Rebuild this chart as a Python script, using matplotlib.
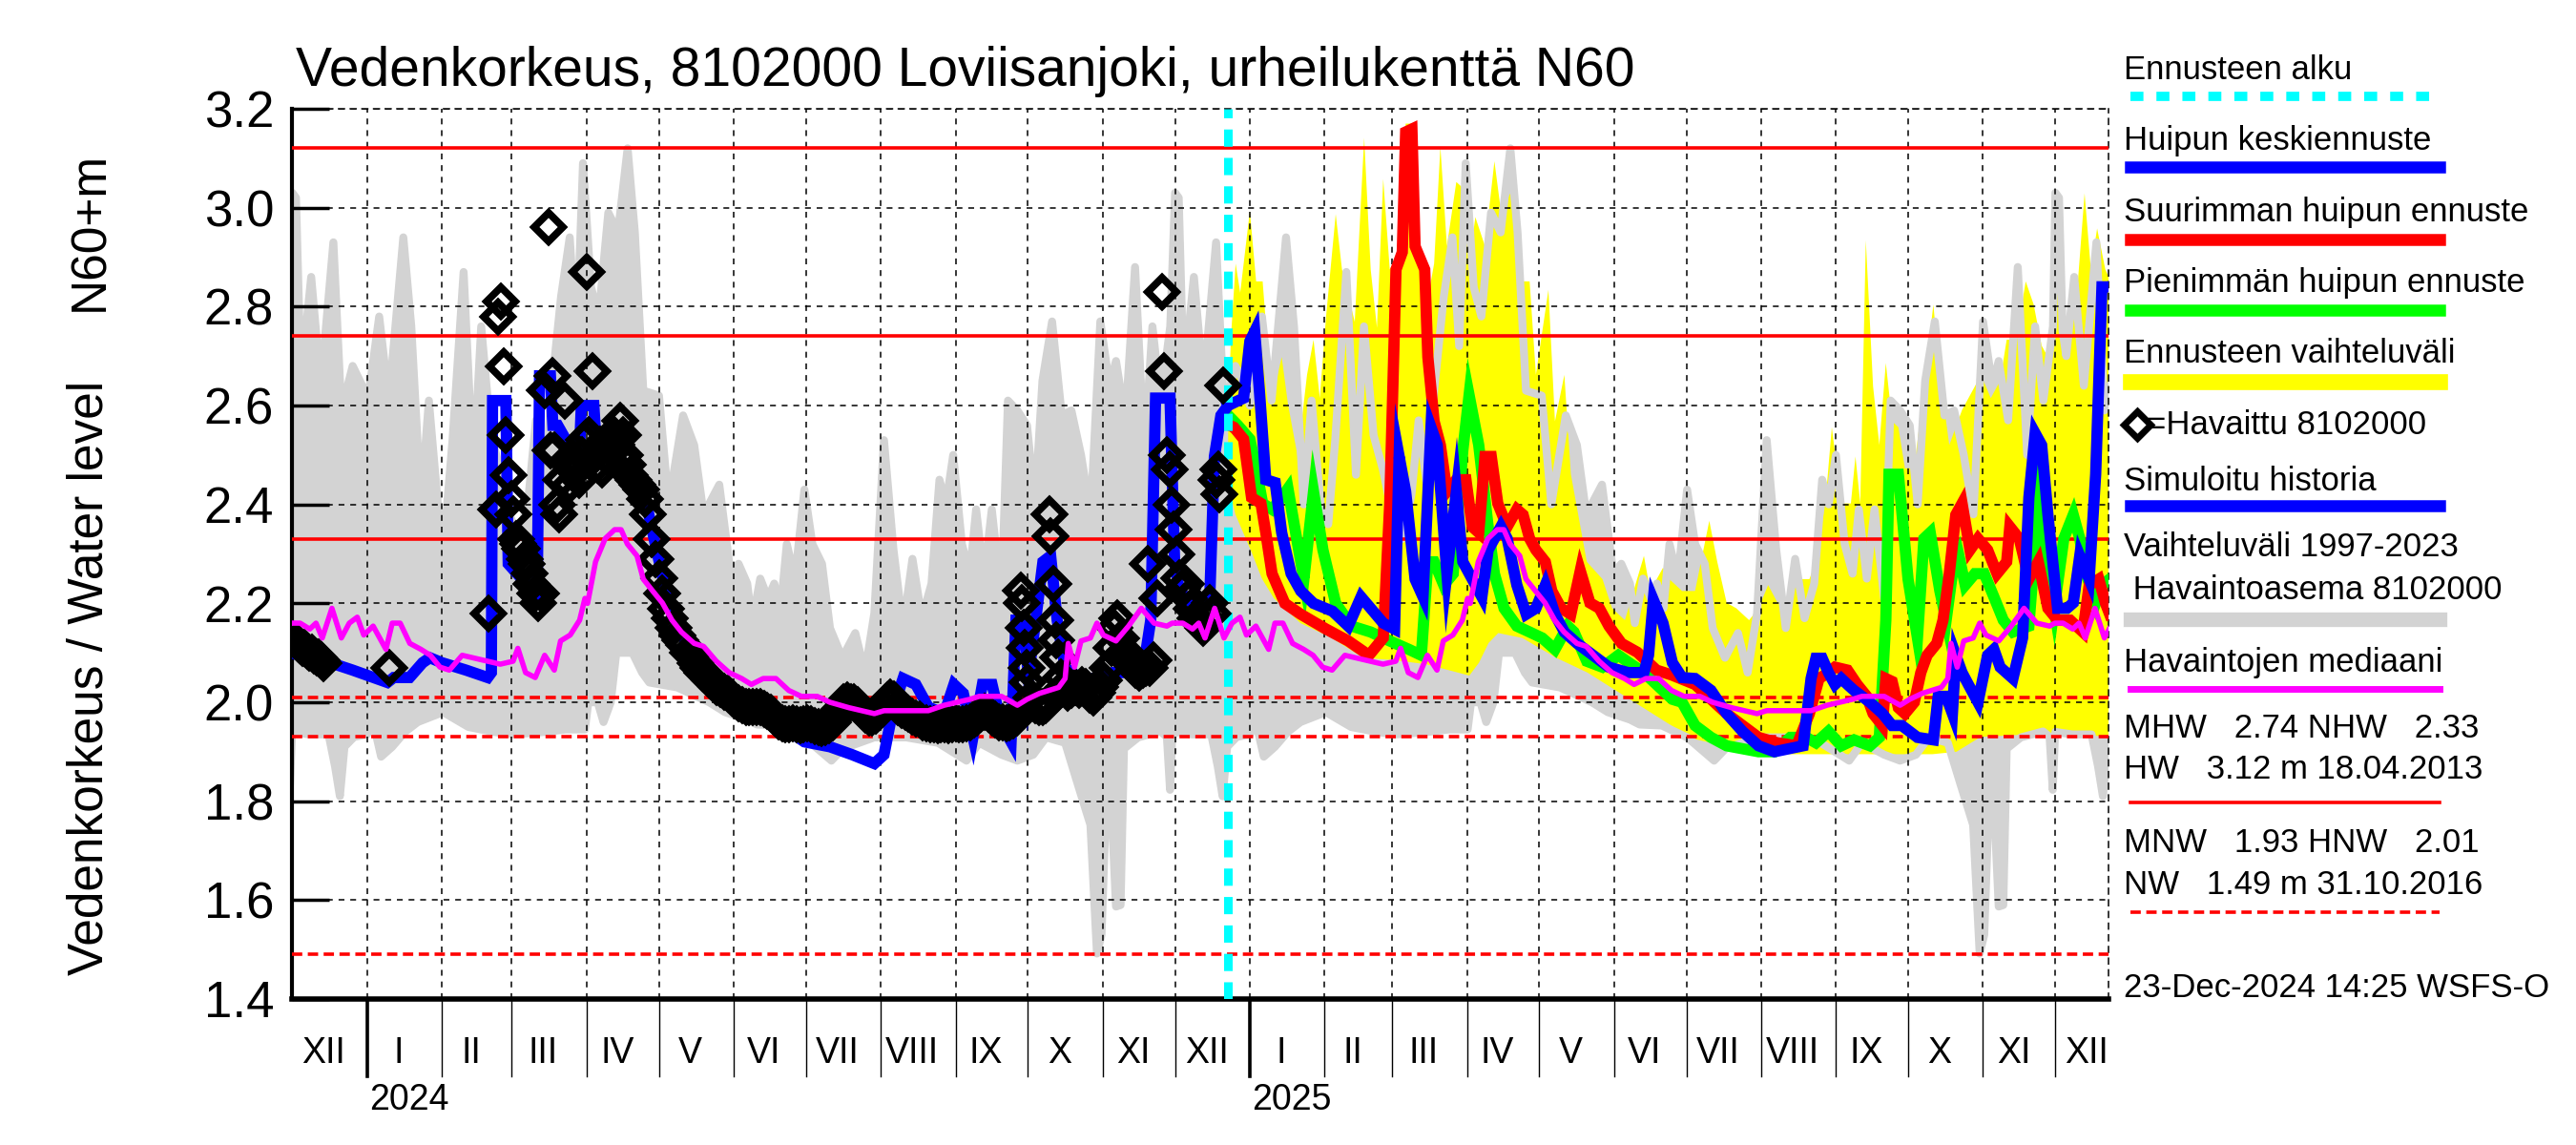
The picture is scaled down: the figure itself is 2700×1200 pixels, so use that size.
import numpy as np
import matplotlib
matplotlib.use("Agg")
import matplotlib.pyplot as plt
import matplotlib.dates as mdates
from matplotlib.lines import Line2D
from datetime import date

plt.rcParams['font.family'] = ['Liberation Sans', 'DejaVu Sans']

# ---------------- data ----------------
# time axis: days counted from 1 Dec 2023
START = date(2023, 12, 1)
N_DAYS = 753            # axis ends 23 Dec 2025
FORECAST_DAY = 388      # 23 Dec 2024

y_ticks = [1.4, 1.6, 1.8, 2.0, 2.2, 2.4, 2.6, 2.8, 3.0, 3.2]
months = ['I', 'II', 'III', 'IV', 'V', 'VI', 'VII', 'VIII', 'IX', 'X', 'XI', 'XII']
hw_lines = [3.12, 2.74, 2.33]      # HW, MHW, NHW
lw_lines = [2.01, 1.93, 1.49]      # HNW, MNW, NW

# climatology 1997-2023, key = days after 1 December
hist_max = [(0, 3.03), (1.5, 3.02), (3, 2.75), (4.5, 2.70), (7.8, 2.86), (11.8, 2.64), (17, 2.93),
            (20.3, 2.59), (25, 2.68), (29, 2.64), (31, 2.60), (36, 2.78), (40, 2.61), (46, 2.94),
            (49.3, 2.76), (53.3, 2.40), (56.6, 2.61), (60.5, 2.39), (63.5, 2.36), (66.4, 2.53),
            (71, 2.87), (75, 2.46), (78.3, 2.76), (82.3, 2.54), (86.2, 2.47), (90, 2.38), (94, 2.33),
            (98, 2.42), (101, 2.57), (104.6, 2.43), (107.4, 2.63), (111.4, 2.82), (115, 2.94),
            (117.8, 2.72), (120.5, 3.09), (123.8, 2.84), (127, 2.78), (131, 2.99), (135, 2.95),
            (139, 3.12), (142, 2.95), (145.5, 2.63), (152, 2.62), (156, 2.40), (162, 2.58),
            (166.6, 2.52), (170.5, 2.38), (177, 2.44), (181.7, 2.26), (185, 2.28), (188.6, 2.24),
            (190.6, 2.16), (194, 2.25), (197.2, 2.21), (199.8, 2.24), (202.5, 2.19), (205, 2.32),
            (208.4, 2.25), (212.3, 2.43), (215.6, 2.32), (219.6, 2.28), (222.9, 2.15), (228, 2.09),
            (233.4, 2.14), (237.4, 2.06), (241.3, 2.18), (245.3, 2.53), (249.2, 2.31), (253.2, 2.15),
            (257.1, 2.29), (261, 2.17), (265, 2.24), (268.3, 2.45), (271, 2.40), (274, 2.50),
            (277.6, 2.32), (280.9, 2.26), (283.5, 2.39), (286.8, 2.25), (290, 2.39), (294, 2.21),
            (296.7, 2.61), (300.6, 2.59), (304.6, 2.56), (307.9, 2.40), (311, 2.65), (315, 2.77),
            (319, 2.58), (323, 2.59), (327, 2.50), (331, 2.38), (335, 2.77), (338.8, 2.64),
            (341.5, 2.69), (345.4, 2.57), (349.4, 2.88), (353.3, 2.50), (356.6, 2.76), (360, 2.61),
            (364, 2.76)]
hist_min = [(0, 1.94), (7, 1.935), (15, 1.935), (17.7, 1.87), (19.7, 1.81), (21.6, 1.91), (25.6, 1.93),
            (31, 1.935), (33.5, 1.96), (36.8, 1.89), (41.4, 1.91), (46.7, 1.94), (52, 1.96),
            (62.5, 1.98), (73, 1.95), (83.6, 1.94), (91.5, 1.935), (104.6, 1.94), (113.4, 1.945),
            (121.3, 1.945), (122.7, 2.0), (126.6, 2.0), (129, 1.96), (132, 2.0), (134.3, 2.10),
            (141, 2.10), (145, 2.06), (148, 2.04), (159.6, 2.03), (172.8, 2.0), (179.4, 1.98),
            (188.6, 1.965), (192.6, 1.955), (201.8, 1.953), (212.3, 1.929), (223.5, 1.882),
            (228.2, 1.906), (241.3, 1.929), (254.5, 1.929), (267.7, 1.918), (279.5, 1.882),
            (284.8, 1.918), (294, 1.894), (300.6, 1.882), (307.2, 1.894), (312.5, 1.929),
            (320.4, 1.918), (325.6, 1.835), (330.9, 1.752), (333.6, 1.492), (335.5, 1.53),
            (337.5, 1.811), (339.5, 1.80), (341.5, 1.587), (343.4, 1.59), (344.8, 1.906),
            (350.7, 1.929), (359.9, 1.941), (362.6, 1.93), (363.9, 1.823), (364.8, 1.93)]
median = [(0, 2.16), (3.2, 2.16), (7.2, 2.148), (9.8, 2.16), (12.4, 2.13), (16.4, 2.19), (20.3, 2.13),
          (23.6, 2.16), (26.9, 2.172), (29.6, 2.136), (33.5, 2.154), (38.8, 2.107), (41.4, 2.16),
          (44.7, 2.16), (48.7, 2.119), (53.3, 2.107), (57.2, 2.095), (61.2, 2.071), (65.1, 2.065),
          (70.4, 2.095), (75.7, 2.089), (80.9, 2.083), (86.2, 2.077), (91.5, 2.083), (93.5, 2.109),
          (96.7, 2.06), (100.7, 2.05), (104.6, 2.095), (108.6, 2.065), (111.2, 2.124), (115.2, 2.136),
          (119.1, 2.166), (121.3, 2.21), (122.4, 2.20), (125.7, 2.284), (129.7, 2.331), (133.6, 2.349),
          (136.3, 2.349), (138.9, 2.32), (142.9, 2.296), (145.5, 2.249), (149.4, 2.225), (153.4, 2.201),
          (157.4, 2.166), (161.3, 2.142), (166.6, 2.119), (170.5, 2.113), (175.8, 2.083), (181.1, 2.06),
          (186.3, 2.048), (190.3, 2.036), (195.2, 2.048), (200.5, 2.048), (205.8, 2.024), (211, 2.012),
          (217.6, 2.012), (222.9, 2.0), (230.8, 1.989), (241.3, 1.977), (245.3, 1.983), (254.5, 1.983),
          (263.7, 1.983), (270.3, 1.994), (275.6, 2.0), (280.9, 2.006), (284.8, 2.012), (294, 2.012),
          (300.6, 1.994), (304.6, 2.006), (309.8, 2.018), (317.7, 2.03), (320.4, 2.048), (321.7, 2.119),
          (324.3, 2.071), (327, 2.124), (330.9, 2.13), (333.6, 2.16), (336.2, 2.136), (341.5, 2.124),
          (346.7, 2.154), (352, 2.19), (357.3, 2.16), (362.6, 2.154), (364.8, 2.16)]

# observed water level (days from 1 Dec 2023)
observed = [(0, 2.13), (1, 2.125), (2, 2.12), (3, 2.115), (4, 2.11), (5, 2.11), (6, 2.105), (7, 2.10),
            (8, 2.10), (9, 2.095), (10, 2.09), (11, 2.09), (12, 2.085), (13, 2.08), (40, 2.07),
            (81.5, 2.18), (84.3, 2.39), (85.4, 2.78), (86.6, 2.81), (87.6, 2.68), (88.3, 2.54),
            (89.6, 2.46), (90.8, 2.41), (91.7, 2.38), (92.6, 2.33), (93.5, 2.32), (94.4, 2.31),
            (95.2, 2.31), (96.2, 2.29), (97.2, 2.28), (98.2, 2.26), (99.2, 2.24), (100.5, 2.22),
            (101.8, 2.20), (103, 2.22), (104.8, 2.63), (106.1, 2.96), (107, 2.51), (107.8, 2.66),
            (108.7, 2.51), (109.6, 2.40), (110.7, 2.38), (111.5, 2.45), (112.8, 2.61), (114, 2.49),
            (115, 2.44), (116, 2.47), (117, 2.49), (118, 2.47), (119, 2.45), (120, 2.50), (121, 2.53),
            (122, 2.87), (123, 2.54), (124.5, 2.67), (125.5, 2.50), (126.5, 2.48), (127.5, 2.52),
            (128.5, 2.47), (129.5, 2.50), (130.5, 2.53), (131.5, 2.49), (132.5, 2.51), (133.5, 2.54),
            (134.5, 2.52), (135.8, 2.57), (137, 2.54), (138, 2.50), (139, 2.48), (140, 2.46),
            (141.5, 2.45), (143, 2.44), (144.5, 2.43), (146, 2.41), (147.5, 2.38), (149, 2.33),
            (150.5, 2.29), (152, 2.25), (153.5, 2.22), (155, 2.19), (156.5, 2.17), (158, 2.15),
            (159.5, 2.135), (161, 2.125), (162.5, 2.115), (164, 2.10), (165.5, 2.095), (167, 2.08),
            (168.5, 2.07), (170, 2.06), (171.5, 2.055), (173, 2.045), (174.5, 2.04), (176, 2.03),
            (177.5, 2.027), (179, 2.022), (180.5, 2.018), (182, 2.01), (183.5, 2.003), (185, 1.998),
            (186.5, 1.995), (188, 1.99), (189.5, 1.99), (191, 1.99), (192.5, 1.99), (194, 1.99),
            (195.5, 1.987), (197, 1.983), (198.5, 1.978), (200, 1.97), (201.5, 1.962), (203, 1.957),
            (204.5, 1.955), (206, 1.955), (207.5, 1.957), (209, 1.955), (210.5, 1.953), (212, 1.955),
            (213.5, 1.957), (215, 1.955), (216.5, 1.952), (218, 1.95), (219.5, 1.948), (221, 1.95),
            (222.5, 1.953), (224, 1.96), (225.5, 1.972), (227, 1.987), (228.5, 2.0), (230, 2.003),
            (231.5, 2.0), (233, 2.0), (234.5, 1.995), (236, 1.985), (237.5, 1.975), (239, 1.97),
            (240.5, 1.97), (242, 1.973), (243.5, 1.98), (245, 1.992), (246.5, 2.003), (248, 2.01),
            (249.5, 2.005), (251, 1.99), (252.5, 1.985), (254, 1.98), (255.5, 1.977), (257, 1.972),
            (258.5, 1.968), (260, 1.965), (261.5, 1.96), (263, 1.958), (264.5, 1.955), (266, 1.955),
            (267.5, 1.953), (269, 1.955), (270.5, 1.955), (272, 1.953), (273.5, 1.955), (275, 1.957),
            (276.5, 1.955), (278, 1.955), (279.5, 1.957), (281, 1.96), (282.5, 1.965), (284, 1.97),
            (285.5, 1.977), (287, 1.98), (288.5, 1.977), (290, 1.97), (291.5, 1.965), (293, 1.96),
            (294.5, 1.96), (296, 1.958), (297.5, 1.96), (299, 1.963), (300.5, 1.97), (301.9, 2.225),
            (302.6, 2.20), (303.2, 2.15), (303.8, 2.11), (304.4, 2.07), (305, 2.04), (306.5, 2.01),
            (308, 1.995), (309.5, 1.99), (311, 1.99), (312.5, 1.995), (313.5, 2.0), (314, 2.38),
            (314.5, 2.335), (315.5, 2.24), (316.2, 2.165), (316.8, 2.125), (317.5, 2.09), (318.5, 2.05),
            (320, 2.03), (321.5, 2.02), (323, 2.025), (324.5, 2.03), (326, 2.025), (327.5, 2.035),
            (329, 2.03), (330.5, 2.015), (332, 2.01), (333.5, 2.02), (335, 2.03), (336.5, 2.045),
            (338, 2.07), (339.5, 2.11), (341, 2.15), (342, 2.17), (343.5, 2.13), (345, 2.105),
            (346.5, 2.095), (348, 2.075), (349.5, 2.065), (351, 2.06), (352.5, 2.065), (354, 2.07),
            (354.6, 2.28), (355.5, 2.07), (357, 2.085), (358.6, 2.21), (360.6, 2.83), (361.2, 2.67),
            (362.5, 2.50), (363.9, 2.47), (364.5, 2.40), (365.2, 2.35), (366.5, 2.30), (367.8, 2.25),
            (369, 2.23), (370.4, 2.24), (371.7, 2.21), (373, 2.19), (374.5, 2.17), (376, 2.16),
            (377.5, 2.15), (379, 2.17), (380.5, 2.20), (381.5, 2.18), (383.3, 2.45), (384, 2.47),
            (384.5, 2.42), (385.8, 2.64)]

# simulated history
simulated = [(0, 2.10), (5, 2.09), (15.7, 2.08), (25, 2.065), (39.4, 2.04), (42, 2.05), (48.6, 2.05),
             (54, 2.08), (57, 2.09), (62, 2.08), (72, 2.065), (81, 2.05), (82.5, 2.06), (83, 2.61),
             (88.5, 2.61), (89.5, 2.28), (95, 2.25), (101.5, 2.22), (102.5, 2.66), (107, 2.66),
             (108, 2.56), (110, 2.56), (117, 2.50), (119, 2.50), (119.8, 2.60), (125, 2.60),
             (126, 2.52), (135, 2.50), (140, 2.46), (146, 2.42), (150, 2.33), (155, 2.22), (160, 2.15),
             (170, 2.06), (180, 2.02), (188.6, 1.99), (201.8, 1.955), (212.3, 1.92), (222.9, 1.91),
             (232.1, 1.894), (241.3, 1.876), (245.3, 1.894), (249.2, 1.99), (253.2, 2.048),
             (258.5, 2.036), (263.7, 1.99), (270.3, 1.977), (274.3, 2.036), (278.2, 2.018), (282.2, 1.93),
             (286.1, 2.036), (290.1, 2.036), (294, 1.955), (298, 1.92), (300, 2.166), (303.2, 2.166),
             (305.2, 2.05), (311.2, 2.284), (314.4, 2.296), (317.1, 2.166), (320.4, 2.07), (327, 2.048),
             (333.6, 2.048), (340.1, 2.06), (346.7, 2.06), (353.3, 2.083), (355.9, 2.166),
             (357.9, 2.615), (363.9, 2.615), (365.8, 2.284), (367.8, 2.225), (373, 2.20), (380.3, 2.20),
             (382.3, 2.497), (385, 2.58), (388, 2.60)]

# forecasts
fc_mean = [(388, 2.60), (394.4, 2.615), (397, 2.73), (399, 2.75), (401, 2.627), (403.6, 2.45),
           (407.5, 2.444), (410.2, 2.343), (414.1, 2.26), (418.1, 2.225), (423.4, 2.20), (431.3, 2.184),
           (437.8, 2.154), (443.1, 2.213), (447.1, 2.19), (452.3, 2.16), (457, 2.148), (458.9, 2.497),
           (461.6, 2.426), (465.5, 2.249), (468.8, 2.213), (472.1, 2.556), (474.7, 2.52), (478.7, 2.26),
           (482.6, 2.426), (485.3, 2.284), (489.2, 2.249), (493.2, 2.213), (495.8, 2.308), (501.1, 2.355),
           (503.7, 2.331), (507.7, 2.237), (511.6, 2.178), (515.6, 2.19), (519.5, 2.237), (523.5, 2.178),
           (527.4, 2.142), (532.7, 2.119), (539.3, 2.095), (545.9, 2.071), (553.8, 2.06), (560.4, 2.06),
           (562.3, 2.095), (564.3, 2.207), (568.3, 2.16), (572.2, 2.08), (576.2, 2.05), (581.6, 2.048),
           (588.2, 2.024), (594.7, 1.977), (601.3, 1.941), (607.9, 1.912), (614.5, 1.90), (626.4, 1.912),
           (629.7, 2.048), (631.7, 2.089), (634.3, 2.089), (636.9, 2.06), (639.6, 2.036), (642.2, 2.048),
           (644.8, 2.036), (647.5, 2.024), (654.1, 2.0), (659.3, 1.977), (663.3, 1.953), (667.3, 1.953),
           (673.8, 1.929), (680.4, 1.924), (682.4, 2.012), (685.7, 2.012), (688.3, 1.977), (689.7, 2.095),
           (692.3, 2.06), (694.9, 2.036), (698.9, 2.0), (702.9, 2.095), (705.5, 2.107), (708.1, 2.071),
           (713.4, 2.048), (717.4, 2.13), (720, 2.414), (722.6, 2.544), (725.3, 2.52), (727.9, 2.379),
           (731.9, 2.19), (735.8, 2.19), (738.4, 2.201), (741.1, 2.296), (745, 2.249), (747.7, 2.461),
           (750.3, 2.84), (753, 2.84)]
fc_max = [(388.5, 2.56), (390.4, 2.556), (394.4, 2.532), (397.7, 2.414), (401.6, 2.402), (403.6, 2.343),
          (406.2, 2.26), (411.5, 2.20), (418.1, 2.178), (428.6, 2.148), (437.8, 2.124), (446.4, 2.095),
          (452.3, 2.13), (455, 2.402), (457.6, 2.875), (460.2, 2.91), (461.6, 3.153), (464.2, 3.159),
          (465.5, 2.922), (469.5, 2.875), (470.8, 2.698), (473.4, 2.568), (476, 2.52), (478.7, 2.426),
          (482.6, 2.45), (486.6, 2.45), (489.2, 2.355), (491.9, 2.343), (494.5, 2.497), (497.1, 2.497),
          (499.8, 2.402), (503.7, 2.355), (507.7, 2.39), (510.3, 2.379), (513, 2.331), (515.6, 2.308),
          (519.5, 2.284), (522.2, 2.225), (526.1, 2.19), (530.1, 2.178), (534, 2.266), (538, 2.201),
          (541.9, 2.19), (545.9, 2.154), (551.1, 2.119), (557.7, 2.101), (565.6, 2.065), (572, 2.055),
          (581.6, 2.036), (594.7, 1.977), (607.9, 1.929), (615.8, 1.918), (623.7, 1.912), (629, 1.977),
          (633, 2.048), (636.9, 2.06), (639.6, 2.071), (644.8, 2.065), (648.8, 2.036), (652.8, 2.012),
          (655.4, 1.977), (659.3, 1.953), (660.7, 2.048), (663.3, 2.042), (665.9, 1.989), (668.6, 1.977),
          (672.5, 2.0), (675.2, 2.06), (677.8, 2.095), (681.8, 2.119), (684.4, 2.166), (687, 2.26),
          (689.7, 2.379), (692.3, 2.402), (695.6, 2.308), (698.9, 2.331), (702.9, 2.308), (706.8, 2.26),
          (710.8, 2.284), (712.1, 2.355), (716, 2.331), (720, 2.249), (723.9, 2.284), (727.9, 2.19),
          (731.9, 2.166), (737.1, 2.166), (742.4, 2.142), (745, 2.237), (749, 2.249), (751.7, 2.201),
          (753.5, 2.178)]
fc_min = [(388, 2.58), (392, 2.56), (397, 2.532), (399.6, 2.473), (402.3, 2.402), (406.2, 2.39),
          (410.2, 2.414), (412.8, 2.432), (416.8, 2.32), (419.4, 2.249), (423.4, 2.426), (427.3, 2.308),
          (432.6, 2.20), (439.2, 2.154), (447.1, 2.142), (455, 2.124), (462.9, 2.107), (468.1, 2.095),
          (470.8, 2.284), (473.4, 2.284), (477.4, 2.237), (481.3, 2.26), (485.3, 2.509), (487.9, 2.621),
          (491.9, 2.52), (495.8, 2.355), (498.4, 2.26), (502.4, 2.19), (507.7, 2.154), (513, 2.142),
          (518.2, 2.13), (523.5, 2.107), (528.8, 2.154), (531.4, 2.142), (536.7, 2.083), (543.2, 2.071),
          (549.8, 2.095), (555.1, 2.077), (560.4, 2.06), (565.6, 2.036), (572.2, 2.006), (576.2, 2.0),
          (581.6, 1.953), (588.2, 1.929), (594.7, 1.912), (607.9, 1.90), (614.5, 1.90), (621.1, 1.929),
          (627.7, 1.929), (631.7, 1.918), (636.9, 1.941), (642.2, 1.912), (647.5, 1.924), (654.1, 1.912),
          (658, 1.929), (660.7, 2.166), (662, 2.461), (665.9, 2.461), (669.9, 2.249), (673.8, 2.13),
          (676.5, 2.331), (679.1, 2.343), (683.1, 2.225), (685.7, 2.166), (688.3, 2.26), (691, 2.296),
          (693.6, 2.237), (697.6, 2.26), (701.5, 2.26), (705.5, 2.213), (709.4, 2.166), (713.4, 2.142),
          (720, 2.154), (723.9, 2.402), (726.6, 2.308), (730.5, 2.19), (734.5, 2.331), (738.4, 2.379),
          (741.1, 2.331), (743.7, 2.26), (747.7, 2.201), (750.3, 2.237), (753.5, 2.249)]
fc_upper = [(388, 2.57), (389.1, 2.733), (391.1, 2.887), (393, 2.828), (397, 2.993), (399.6, 2.851),
            (402.3, 2.851), (404.9, 2.686), (407.5, 2.639), (410.2, 2.698), (412.8, 2.603), (416.8, 2.497),
            (420.7, 2.662), (423.4, 2.733), (426, 2.615), (428.6, 2.78), (432.6, 2.987), (435.2, 2.875),
            (440.5, 2.769), (444.4, 3.141), (447.1, 2.875), (449.7, 2.757), (452.3, 3.058), (455, 2.875),
            (457.6, 2.90), (460.2, 2.95), (461.6, 3.17), (464.2, 3.17), (465.5, 2.94), (470.8, 2.816),
            (473.4, 2.887), (476, 3.123), (478.7, 2.922), (482.6, 3.052), (485.3, 3.04), (487.9, 2.887),
            (490.5, 2.981), (494.5, 2.922), (498.4, 3.094), (501.1, 2.993), (505, 3.029), (509, 2.851),
            (513, 2.851), (515.6, 2.662), (520.8, 2.834), (523.5, 2.568), (527.4, 2.662), (530.1, 2.461),
            (536.7, 2.284), (543.2, 2.249), (547.2, 2.19), (552.5, 2.166), (560.4, 2.296), (563, 2.225),
            (568.3, 2.272), (570.9, 2.249), (576.2, 2.225), (581.6, 2.225), (587.5, 2.367), (590.8, 2.284),
            (594.7, 2.201), (598.7, 2.19), (604, 2.166), (607.9, 2.19), (611.9, 2.237), (615.8, 2.201),
            (621.1, 2.213), (625.1, 2.249), (629, 2.249), (631.7, 2.284), (635.6, 2.402), (638.3, 2.556),
            (642.2, 2.402), (646.2, 2.402), (648.1, 2.497), (650.1, 2.402), (652.4, 2.934), (655.4, 2.639),
            (658, 2.52), (660.7, 2.686), (663.3, 2.568), (665.9, 2.556), (668.6, 2.473), (672.5, 2.473),
            (676.5, 2.639), (680.4, 2.804), (683.1, 2.662), (687, 2.52), (692.3, 2.591), (696.3, 2.627),
            (700.2, 2.662), (704.2, 2.615), (708.1, 2.65), (710.8, 2.733), (714.7, 2.733), (718.7, 2.851),
            (722, 2.804), (725.3, 2.721), (727.9, 2.698), (731.9, 2.828), (735.8, 2.757), (739.8, 2.816),
            (743.1, 3.029), (745.7, 2.875), (748.3, 2.958), (751.7, 2.875), (754, 2.85)]
fc_lower = [(388, 2.52), (389, 2.42), (391, 2.38), (398, 2.30), (402, 2.25), (407, 2.21), (418, 2.16),
            (431, 2.13), (444, 2.09), (457, 2.085), (470, 2.077), (488, 2.054), (492, 2.08), (496, 2.12),
            (500, 2.14), (510, 2.13), (517, 2.11), (524, 2.09), (537, 2.06), (550, 2.02), (563, 1.98),
            (576, 1.94), (582, 1.925), (595, 1.91), (607, 1.895), (680, 1.895), (690, 1.90), (700, 1.93),
            (720, 1.935), (740, 1.935), (754, 1.93)]

# ---------------- helpers ----------------
T0 = mdates.date2num(START)
GRAY = '#d3d3d3'


def series(pairs):
    a = np.array(pairs, dtype=float)
    return T0 + a[:, 0], a[:, 1]


def climatology(pairs):
    a = np.array(pairs, dtype=float)
    xs, ys = [], []
    for yr in (2022, 2023, 2024, 2025):
        s = mdates.date2num(date(yr, 12, 1))
        e = mdates.date2num(date(yr + 1, 12, 1))
        x = s + a[:, 0]
        keep = x < e
        xs.append(x[keep])
        ys.append(a[keep, 1])
    return np.concatenate(xs), np.concatenate(ys)


# ---------------- figure ----------------
fig = plt.figure(figsize=(27, 12), dpi=100)
ax = fig.add_axes([0.1135, 0.1275, 0.705, 0.7775])
x0, x1 = T0, T0 + N_DAYS
ax.set_xlim(x0, x1)
ax.set_ylim(1.4, 3.2)

# historical band
gx, gy = climatology(hist_max)
nx, ny = climatology(hist_min)
ax.fill(np.r_[gx, nx[::-1]], np.r_[gy, ny[::-1]], color=GRAY, lw=0, zorder=1)

# forecast band
ux, uy = series(fc_upper)
lx, ly = series(fc_lower)
ax.fill(np.r_[ux, lx[::-1]], np.r_[uy, ly[::-1]], color='#ffff00', lw=0, zorder=2)
ax.plot(gx, gy, color=GRAY, lw=6, zorder=2.5)
ax.plot(nx, ny, color=GRAY, lw=6, zorder=2.5)

# grid
month_starts = []
yy, mm = 2024, 1
while True:
    d = mdates.date2num(date(yy, mm, 1))
    if d > x1:
        break
    month_starts.append((d, mm, yy))
    mm += 1
    if mm > 12:
        mm, yy = 1, yy + 1
for yv in y_ticks[1:]:
    ax.axhline(yv, color='black', lw=1.1, ls=(0, (4, 4)), zorder=2.8)
for d, m, yr in month_starts:
    ax.axvline(d, color='black', lw=1.1, ls=(0, (4, 4)), zorder=2.8)

# reference levels
for v in hw_lines:
    ax.axhline(v, color='#ff0000', lw=2.6, zorder=3)
for v in lw_lines:
    ax.axhline(v, color='#ff0000', lw=2.6, ls=(0, (3, 1.6)), zorder=3)

# forecasts and history
LW = 8.5
for pairs, col in ((fc_min, '#00ff00'), (fc_max, '#ff0000'), (fc_mean, '#0000ff')):
    x, y = series(pairs)
    ax.plot(x, y, color=col, lw=LW, zorder=4, solid_joinstyle='miter')
sx, sy = series(simulated)
ax.plot(sx, sy, color='#0000ff', lw=LW, zorder=4.5, solid_joinstyle='miter')

ax.axvline(T0 + FORECAST_DAY, color='#00ffff', lw=6.5, ls=(0, (2, 1.3)), zorder=5)

ox, oy = series(observed)
ax.plot(ox, oy, ls='none', marker='D', ms=15, mew=5.5, mfc='none', mec='black', zorder=6)

mx, my = climatology(median)
ax.plot(mx, my, color='#ff00ff', lw=4, zorder=7)

# axes styling
for s in ('top', 'right'):
    ax.spines[s].set_linestyle((0, (4, 4)))
    ax.spines[s].set_linewidth(1.1)
ax.spines['left'].set_linewidth(3)
ax.spines['bottom'].set_linewidth(4)
ax.set_xticks([])
ax.set_yticks(y_ticks)
ax.set_yticklabels([f'{v:.1f}' for v in y_ticks])
ax.tick_params(axis='y', direction='in', length=28, width=2.5, labelsize=38, pad=14)
ax.set_axisbelow(False)

trans = ax.get_xaxis_transform()
for d, m, yr in month_starts:
    ax.plot([d, d], [0, -0.087], transform=trans, color='black',
            lw=2.6 if m == 1 else 1.0, clip_on=False, zorder=10)
# month labels
label_months = [(mdates.date2num(date(2023, 12, 1)), 12, 31)]
for d, m, yr in month_starts:
    nd = (date(yr + (m == 12), m % 12 + 1, 1) - date(yr, m, 1)).days
    label_months.append((d, m, nd))
for d, m, nd in label_months:
    xc = d + 0.42 * nd
    if xc < x1:
        ax.text(xc, -0.061, months[m - 1], transform=trans, ha='center', va='center', fontsize=27)
for yr in (2024, 2025):
    ax.text(mdates.date2num(date(yr, 1, 1)) + 1, -0.114, str(yr), transform=trans,
            ha='left', va='center', fontsize=27)

# titles
fig.text(0.115, 0.925, 'Vedenkorkeus, 8102000 Loviisanjoki, urheilukenttä N60',
         fontsize=41, ha='left', va='baseline')
fig.text(0.035, 0.408, 'Vedenkorkeus / Water level', rotation=90, fontsize=37,
         ha='center', va='center')
fig.text(0.035, 0.798, 'N60+m', rotation=90, fontsize=37, ha='center', va='center')

# legend on the right
LX = 0.8245
L0, L1 = 0.827, 0.947


def leg_line(y, color, lw, ls='-'):
    fig.add_artist(Line2D([L0, L1], [y, y], transform=fig.transFigure, color=color, lw=lw, ls=ls))


FS = 25
fig.text(LX, 0.939, 'Ennusteen alku', fontsize=FS, va='center')
leg_line(0.916, '#00ffff', 7, (0, (1.4, 1.4)))
fig.text(LX, 0.877, 'Huipun keskiennuste', fontsize=FS, va='center')
leg_line(0.854, '#0000ff', 9)
fig.text(LX, 0.815, 'Suurimman huipun ennuste', fontsize=FS, va='center')
leg_line(0.791, '#ff0000', 9)
fig.text(LX, 0.753, 'Pienimmän huipun ennuste', fontsize=FS, va='center')
leg_line(0.729, '#00ff00', 9)
fig.text(LX, 0.691, 'Ennusteen vaihteluväli', fontsize=FS, va='center')
leg_line(0.667, '#ffff00', 12)
fig.add_artist(Line2D([0.8295], [0.629], transform=fig.transFigure, ls='none', marker='D',
                      ms=14, mew=5, mfc='none', mec='black'))
fig.text(0.8335, 0.629, '=Havaittu 8102000', fontsize=FS, va='center')
fig.text(LX, 0.580, 'Simuloitu historia', fontsize=FS, va='center')
leg_line(0.558, '#0000ff', 9)
fig.text(LX, 0.522, 'Vaihteluväli 1997-2023', fontsize=FS, va='center')
fig.text(LX, 0.485, ' Havaintoasema 8102000', fontsize=FS, va='center')
leg_line(0.459, GRAY, 11)
fig.text(LX, 0.421, 'Havaintojen mediaani', fontsize=FS, va='center')
leg_line(0.398, '#ff00ff', 5)
fig.text(LX, 0.364, 'MHW   2.74 NHW   2.33', fontsize=FS, va='center')
fig.text(LX, 0.328, 'HW   3.12 m 18.04.2013', fontsize=FS, va='center')
leg_line(0.299, '#ff0000', 2.6)
fig.text(LX, 0.264, 'MNW   1.93 HNW   2.01', fontsize=FS, va='center')
fig.text(LX, 0.227, 'NW   1.49 m 31.10.2016', fontsize=FS, va='center')
leg_line(0.203, '#ff0000', 2.6, (0, (3, 1.6)))
fig.text(LX, 0.137, '23-Dec-2024 14:25 WSFS-O', fontsize=FS, va='center')

fig.savefig('out.png', dpi=100)
